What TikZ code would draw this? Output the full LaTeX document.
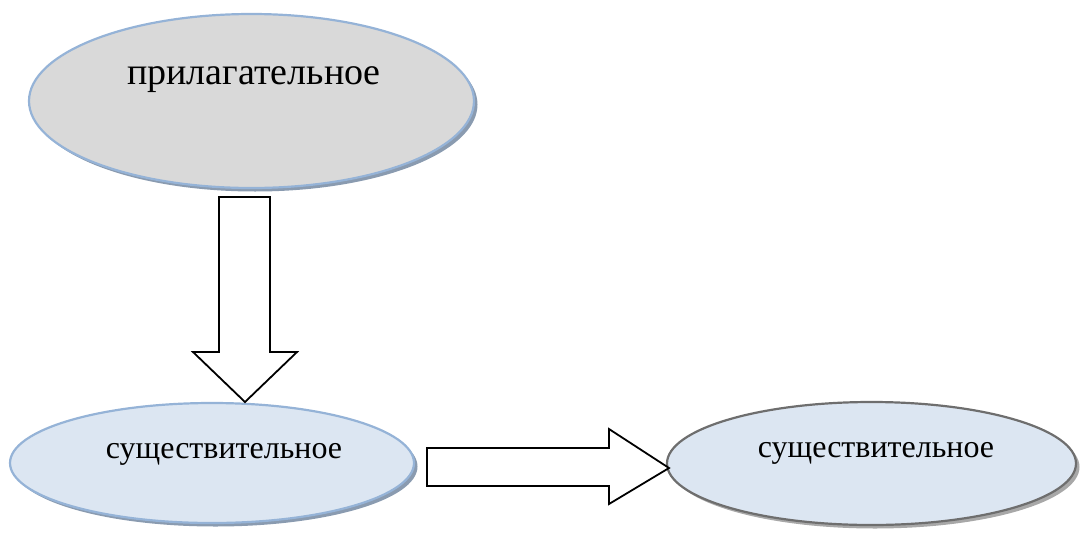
\documentclass[tikz,border=0pt]{standalone}
\usepackage{fontspec}
\setmainfont{Liberation Serif}
\usetikzlibrary{shapes.geometric}
\definecolor{grayfill}{HTML}{D9D9D9}
\definecolor{bluefill}{HTML}{DCE6F2}
\definecolor{bluestroke}{HTML}{95B3D7}
\definecolor{blueshadow}{HTML}{8A9BB0}
\definecolor{graystroke}{HTML}{6E6E6E}
\definecolor{grayshadow}{HTML}{A8A8A8}
\tikzset{
  ell/.style={ellipse, inner sep=0pt, line width=2.2pt},
  shad/.style={ellipse, inner sep=0pt, draw=none},
  blockarrow/.style={draw=black, line width=1.8pt, fill=white, line join=miter},
  bigtext/.style={anchor=base, font=\fontsize{38}{42}\selectfont},
  smalltext/.style={anchor=base, font=\fontsize{32}{36}\selectfont},
}
\begin{document}
\begin{tikzpicture}[x=1pt,y=-1pt]
\useasboundingbox (0,0) rectangle (1081,533);
% shadows
\node[shad, fill=blueshadow, minimum width=445pt, minimum height=174pt] (s1) at (255,104.5) {};
\node[shad, fill=blueshadow, minimum width=404pt, minimum height=120pt] (s2) at (215.5,466.5) {};
\node[shad, fill=grayshadow, minimum width=409pt, minimum height=123pt] (s3) at (875,467) {};
% ellipses
\node[ell, draw=bluestroke, fill=grayfill, minimum width=445pt, minimum height=174pt] (adj) at (251.5,101) {};
\node[ell, draw=bluestroke, fill=bluefill, minimum width=404pt, minimum height=120pt] (noun1) at (212,463) {};
\node[ell, draw=graystroke, fill=bluefill, minimum width=409pt, minimum height=123pt] (noun2) at (871.5,463.5) {};
% texts
\node[bigtext] (t1) at (254,84) {прилагательное};
\node[smalltext] (t2) at (224,458) {существительное};
\node[smalltext] (t3) at (876,457) {существительное};
% down block arrow
\draw[blockarrow] (219,197) -- (270,197) -- (270,352) -- (297,352) -- (245,402) -- (193,352) -- (219,352) -- cycle;
% right block arrow
\draw[blockarrow] (427,448) -- (609,448) -- (609,429) -- (669,468) -- (609,504) -- (609,486) -- (427,486) -- cycle;
\end{tikzpicture}
\end{document}
